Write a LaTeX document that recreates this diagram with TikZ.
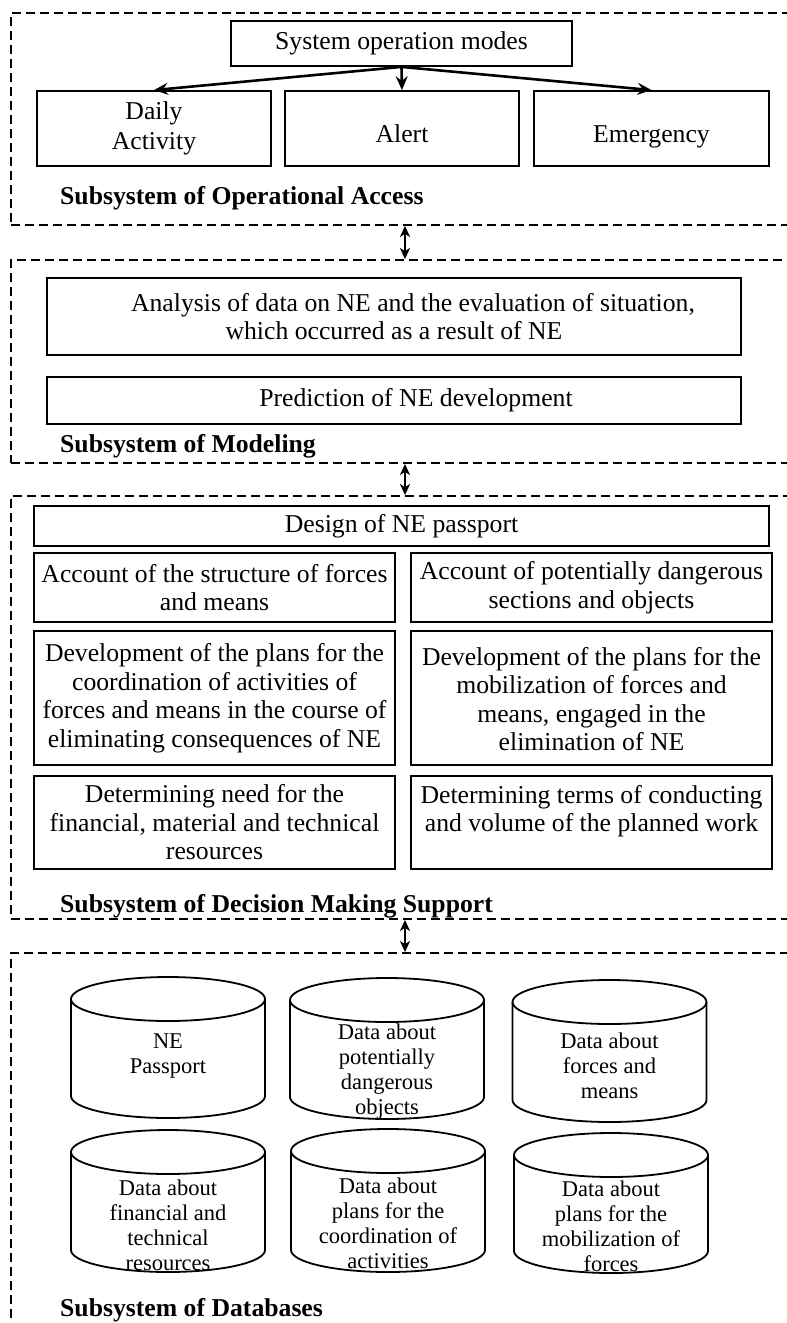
\documentclass[tikz,border=0pt]{standalone}
\usepackage{fontspec}
\setmainfont{Liberation Serif}
\usetikzlibrary{arrows.meta}
\newcommand\dbcyl[3]{%
  \draw[cylline] (#1,#2+22) ellipse [x radius=97pt, y radius=22pt];
  \draw[cylline] (#1-97,#2+22) -- (#1-97,#3-22)
    arc[start angle=180, end angle=360, x radius=97pt, y radius=22pt] -- (#1+97,#2+22);}
\begin{document}
\begin{tikzpicture}[x=1pt,y=-1pt,
  box/.style={draw, line width=1.8pt, align=center, inner sep=0pt, font=\fontsize{25.7}{28.5}\selectfont},
  sect/.style={draw, dash pattern=on 9pt off 5pt, line width=1.8pt, minimum width=788pt, inner sep=0pt},
  lbl/.style={anchor=base west, inner sep=0pt, font=\fontsize{25.7}{28.5}\selectfont\bfseries},
  arr/.style={line width=2.6pt, -{Stealth[length=14pt,width=12pt,inset=5pt]}},
  darr/.style={line width=1.9pt, {Stealth[length=11pt,width=10pt,inset=3pt]}-{Stealth[length=11pt,width=10pt,inset=3pt]}},
  cylline/.style={line width=1.8pt},
  cyltext/.style={align=center, inner sep=0pt, font=\fontsize{22.5}{25}\selectfont}]
\useasboundingbox (0,0) rectangle (787,1323);
% sections
\node[sect, minimum height=212pt] (s1) at (405,119) {};
\node[sect, minimum height=203pt] (s2) at (405,361.5) {};
\node[sect, minimum height=423pt] (s3) at (405,707.5) {};
\node[sect, minimum height=392pt] (s4) at (405,1149) {};
\draw[darr] (s1.south) -- (s2.north);
\draw[darr] (s2.south) -- (s3.north);
\draw[darr] (s3.south) -- (s4.north);
% operational access
\node[box, minimum width=341pt, minimum height=45pt] (sys) at (401.5,43.5) {System operation modes};
\node[box, minimum width=234pt, minimum height=75pt] (daily) at (154,128.5) {Daily\\[1.5pt]Activity};
\node[box, minimum width=234pt, minimum height=75pt, text height=30pt, text depth=3pt] (alert) at (402,128.5) {Alert};
\node[box, minimum width=235pt, minimum height=75pt, text height=30pt, text depth=3pt] (emerg) at (651.5,128.5) {Emergency};
\draw[arr] (sys.south) -- (daily.north);
\draw[arr] (sys.south) -- (alert.north);
\draw[arr] (sys.south) -- (emerg.north);
\node[lbl] (l1) at (60,204) {Subsystem of Operational Access};
% modeling
\node[box, minimum width=694pt, minimum height=77pt] (anal) at (394,316.5) {\hspace*{38pt}Analysis of data on NE and the evaluation of situation,\\which occurred as a result of NE};
\node[box, minimum width=694pt, minimum height=47pt] (pred) at (394,400.5) {\hspace*{44pt}Prediction of NE development};
\node[lbl] (l2) at (60,452) {Subsystem of Modeling};
% decision making support
\node[box, minimum width=735pt, minimum height=40pt] (design) at (401.5,526) {Design of NE passport};
\node[box, minimum width=361pt, minimum height=69pt] (forces) at (214.5,587.5) {Account of the structure of forces\\and means};
\node[box, minimum width=361pt, minimum height=69pt] (danger) at (591.5,587.5) {Account of potentially dangerous\\sections and objects};
\node[box, minimum width=361pt, minimum height=134pt] (coord) at (214.5,698) {Development of the plans for the\\coordination of activities of\\forces and means in the course of\\eliminating consequences of NE};
\node[box, minimum width=361pt, minimum height=134pt] (mobil) at (591.5,698) {\strut Development of the plans for the\\mobilization of forces and\\means, engaged in the\\elimination of NE};
\node[box, minimum width=361pt, minimum height=93pt] (need) at (214.5,822.5) {Determining need for the\\financial, material and technical\\resources};
\node[box, minimum width=361pt, minimum height=93pt] (terms) at (591.5,822.5) {Determining terms of conducting\\and volume of the planned work\\\mbox{}};
\node[lbl] (l3) at (60,912) {Subsystem of Decision Making Support};
% databases
\dbcyl{168}{977}{1118}
\dbcyl{387}{978}{1119}
\dbcyl{609.5}{980}{1122}
\dbcyl{168}{1130}{1272}
\dbcyl{388}{1129}{1272}
\dbcyl{611}{1133}{1273}
\node[cyltext] (db1) at (168,1056) {NE\\Passport};
\node[cyltext] (db2) at (387,1072) {Data about\\potentially\\dangerous\\objects};
\node[cyltext] (db3) at (609.5,1066) {Data about\\forces and\\means};
\node[cyltext] (db4) at (168,1225) {Data about\\financial and\\technical\\resources};
\node[cyltext] (db5) at (388,1223) {Data about\\plans for the\\coordination of\\activities};
\node[cyltext] (db6) at (611,1226) {Data about\\plans for the\\mobilization of\\forces};
\node[lbl] (l4) at (60,1316) {Subsystem of Databases};
\end{tikzpicture}
\end{document}
